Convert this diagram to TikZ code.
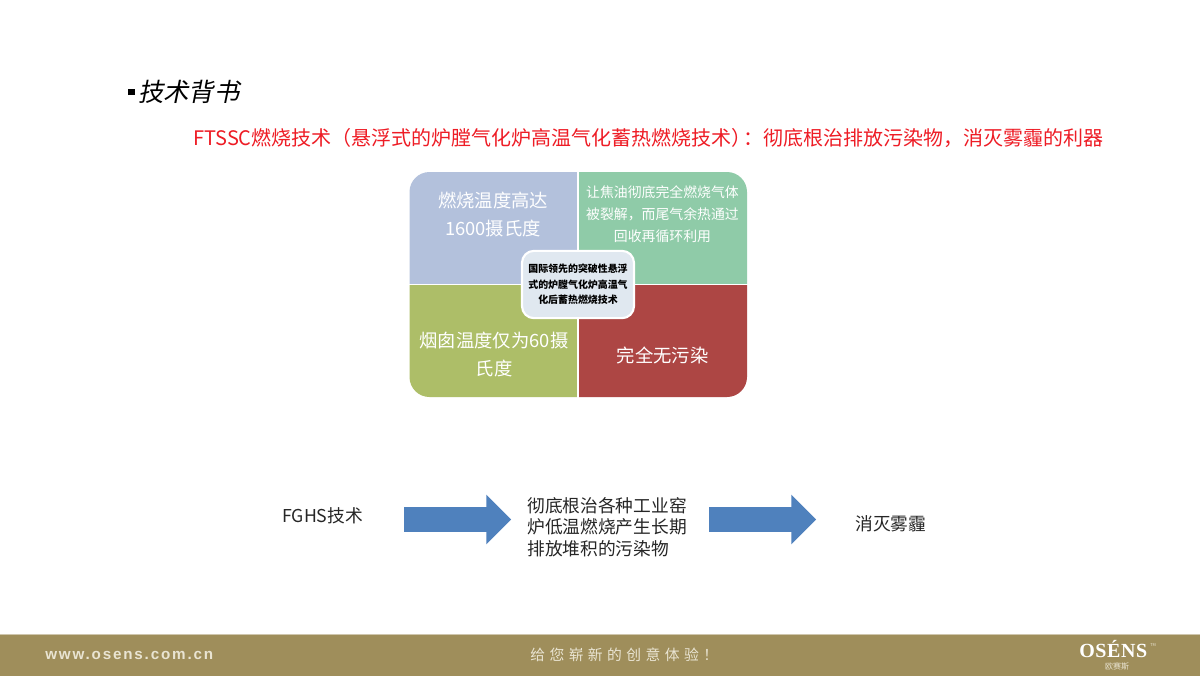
\documentclass[tikz,border=0pt]{standalone}
\usepackage{fontspec}
\setmainfont{Noto Sans CJK SC}
\newfontfamily\slantcjk[FakeSlant=0.2]{Noto Sans CJK SC}
\newfontfamily\latinsans[LetterSpace=12]{Liberation Sans}
\newfontfamily\spacedcjk[LetterSpace=30]{Noto Sans CJK SC}
\newfontfamily\logofont[LetterSpace=3]{Liberation Serif}
\usetikzlibrary{shapes.arrows}
\setlength{\lineskiplimit}{-30pt}
\definecolor{qblue}{HTML}{B3C1DC}
\definecolor{qgreen}{HTML}{8FCBA8}
\definecolor{qolive}{HTML}{ADBE68}
\definecolor{qred}{HTML}{AD4644}
\definecolor{cbox}{HTML}{E0E8F0}
\definecolor{arrowblue}{HTML}{4F81BD}
\definecolor{band}{HTML}{9F8E5B}
\definecolor{bandtext}{HTML}{E9E4D2}
\definecolor{redtxt}{HTML}{EE1C25}
\tikzset{
  px/.style={x=0.75pt,y=-0.75pt},
  qtext/.style={text=white,align=center,inner sep=0pt,font=\fontsize{13.75pt}{21.5pt}\selectfont},
  qsmall/.style={text=white,align=center,inner sep=0pt,font=\fontsize{10.4pt}{16.5pt}\selectfont},
  flowtext/.style={text=black!85,align=left,inner sep=0pt,font=\fontsize{13.3pt}{16.2pt}\selectfont},
  flowarrow/.style={single arrow,fill=arrowblue,draw=none,text height=18pt,text depth=0pt,text width=0pt,inner sep=0pt,minimum height=80.25pt,single arrow head extend=9.4pt,single arrow tip angle=90},
  centerbox/.style={fill=cbox,draw=white,line width=1.6pt,rounded corners=9pt,minimum width=84pt,minimum height=50.5pt,inner sep=0pt,align=center,font=\bfseries\fontsize{7.45pt}{11.6pt}\selectfont}
}
\begin{document}
\begin{tikzpicture}[px]
\useasboundingbox (0,0) rectangle (1200,676);
\fill[white] (0,0) rectangle (1200,676);
% title
\node[anchor=west,inner sep=0pt] (bul) at (128,92) {\rule{4.8pt}{4.8pt}};
\node[anchor=west,inner sep=0pt,font=\slantcjk\fontsize{19pt}{20pt}\selectfont] (title) at (138,92) {技术背书};
\node[anchor=west,inner sep=0pt,text=redtxt,font=\fontsize{15pt}{18pt}\selectfont] (sub) at (193,138) {FTSSC燃烧技术（悬浮式的炉膛气化炉高温气化蓄热燃烧技术）\hspace{-6pt}：彻底根治排放污染物，消灭雾霾的利器};
% quadrants
\begin{scope}
\clip[rounded corners=15pt] (409.5,172) rectangle (747,397);
\fill[qblue] (405,168) rectangle (577.2,283.6);
\fill[qgreen] (578.8,168) rectangle (751,283.6);
\fill[qolive] (405,285.4) rectangle (577.2,401);
\fill[qred] (578.8,285.4) rectangle (751,401);
\end{scope}
\node[qtext] (qa) at (493,214.5) {燃烧温度高达\\1600摄氏度};
\node[qsmall] (qb) at (662.5,214.5) {让焦油彻底完全燃烧气体\\被裂解，而尾气余热通过\\回收再循环利用};
\node[qtext] (qc) at (494,354.5) {烟囱温度仅为60摄\\氏度};
\node[qtext] (qd) at (662.5,355.5) {完全无污染};
\node[centerbox] (cb) at (578,284.5) {国际领先的突破性悬浮\\式的炉膛气化炉高温气\\化后蓄热燃烧技术};
% flow
\node[flowtext,anchor=west] (f1) at (282,516) {FGHS技术};
\node[flowarrow] (a1) at (451.5,519.5) {};
\node[flowtext,anchor=west] (f2) at (527,527) {彻底根治各种工业窑\\炉低温燃烧产生长期\\排放堆积的污染物};
\node[flowarrow] (a2) at (756.5,519.5) {};
\node[flowtext,anchor=west] (f3) at (855,524) {消灭雾霾};
% footer band
\fill[band] (0,635) rectangle (1200,676);
\fill[band!50!white] (0,634) rectangle (1200,635.2);
\node[anchor=west,inner sep=0pt,text=bandtext,font=\latinsans\bfseries\fontsize{11.4pt}{12pt}\selectfont] (web) at (45,655) {www.osens.com.cn};
\node[anchor=west,inner sep=0pt,text=bandtext,font=\spacedcjk\fontsize{11.1pt}{12pt}\selectfont] (slogan) at (530,654.5) {给您崭新的创意体验！};
\node[anchor=west,inner sep=0pt,text=white,text depth=0pt,text height=9pt,font=\logofont\bfseries\fontsize{15pt}{16pt}\selectfont] (logo) at (1079,651.5) {OSÉNS};
\node[anchor=west,inner sep=0pt,text=bandtext,font=\fontsize{3pt}{4pt}\selectfont] (tm) at (1150,645.5) {TM};
\node[inner sep=0pt,text=bandtext,text height=5pt,text depth=0pt,font=\fontsize{6pt}{6pt}\selectfont] (logocn) at (1117,666) {欧赛斯};
\end{tikzpicture}
\end{document}
